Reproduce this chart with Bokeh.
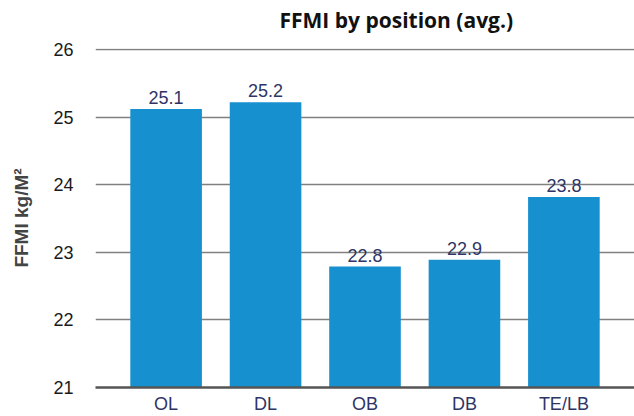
from bokeh.plotting import figure
from bokeh.models import FactorRange, Range1d, FixedTicker, Title
from bokeh.core.properties import value
from bokeh.embed import file_html
from bokeh.resources import INLINE

categories = ["OL", "DL", "OB", "DB", "TE/LB"]
ffmi_values = [25.12, 25.22, 22.79, 22.89, 23.82]
value_labels = ["25.1", "25.2", "22.8", "22.9", "23.8"]
y_ticks = [21, 22, 23, 24, 25, 26]

BAR = "#1790d0"
NAVY = "#2e3566"
FONT = "Liberation Sans"

p = figure(
    width=634, height=416,
    x_range=FactorRange(factors=categories, range_padding=0.21, range_padding_units="absolute"),
    y_range=Range1d(21, 26.015),
    output_backend="svg", toolbar_location=None,
    min_border_left=95, min_border_right=0, min_border_top=48, min_border_bottom=29,
)
p.title = None
# spacer (closest to the frame), then the real title above it
p.add_layout(Title(text=" ", text_font_size="1px", standoff=12), "above")
p.add_layout(Title(text="FFMI by position (avg.)", align="left", offset=184, standoff=0,
                   text_font="Open Sans", text_font_size="21px", text_font_style="bold",
                   text_color="#111111"), "above")

p.vbar(x=categories, top=ffmi_values, bottom=21, width=0.72, color=BAR, line_color=None)
p.text(x=categories, y=ffmi_values, text=value_labels, text_align="center",
       text_baseline="bottom", y_offset=-5, text_font=value(FONT),
       text_font_size="18px", text_color=NAVY)

p.outline_line_color = None
p.xgrid.grid_line_color = None
p.ygrid.grid_line_color = "#808080"
p.ygrid.grid_line_width = 1.6
p.yaxis.ticker = FixedTicker(ticks=y_ticks)

p.yaxis.axis_line_color = None
p.yaxis.major_tick_line_color = None
p.yaxis.minor_tick_line_color = None
p.yaxis.major_tick_out = 0
p.yaxis.major_label_standoff = 22
p.yaxis.major_label_text_font = FONT
p.yaxis.major_label_text_font_size = "18px"
p.yaxis.major_label_text_color = "#1a1a1a"
p.yaxis.axis_label = "FFMI kg/M²"
p.yaxis.axis_label_text_font = FONT
p.yaxis.axis_label_text_font_style = "bold"
p.yaxis.axis_label_text_font_size = "19px"
p.yaxis.axis_label_text_color = "#444444"
p.yaxis.axis_label_standoff = 18

p.xaxis.axis_line_color = "#555555"
p.xaxis.axis_line_width = 2.5
p.xaxis.major_tick_line_color = None
p.xaxis.minor_tick_line_color = None
p.xaxis.major_tick_out = 0
p.xaxis.major_label_standoff = 6
p.xaxis.major_label_text_font = FONT
p.xaxis.major_label_text_font_size = "18px"
p.xaxis.major_label_text_color = NAVY

open("out.html", "w").write(file_html(p, INLINE))
